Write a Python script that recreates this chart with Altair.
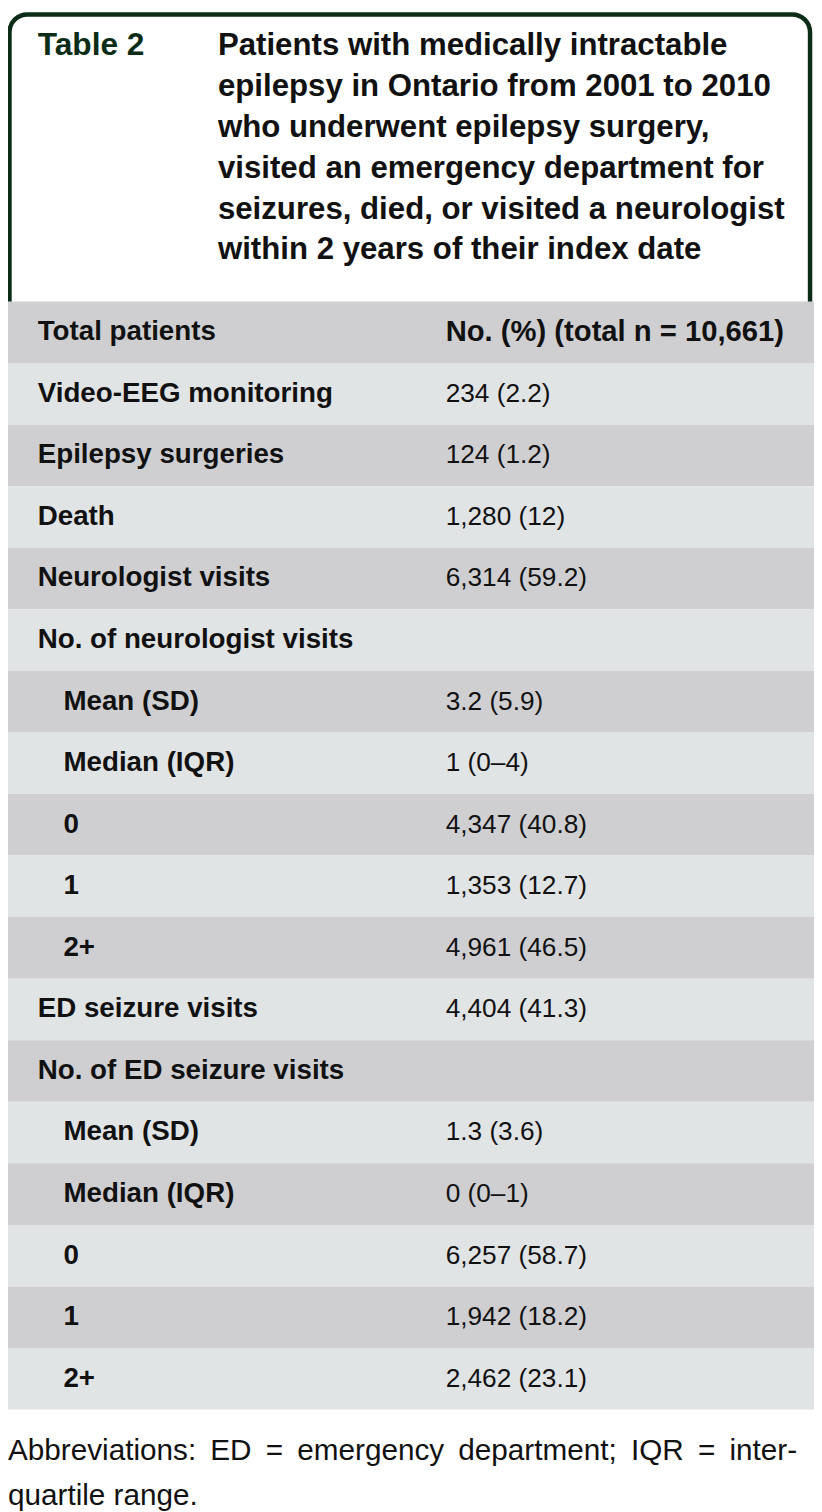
import altair as alt
import pandas as pd

# ---- content ----
table_label = "Table 2"
title_lines = [
    "Patients with medically intractable",
    "epilepsy in Ontario from 2001 to 2010",
    "who underwent epilepsy surgery,",
    "visited an emergency department for",
    "seizures, died, or visited a neurologist",
    "within 2 years of their index date",
]
row_labels = [
    "Total patients", "Video-EEG monitoring", "Epilepsy surgeries", "Death",
    "Neurologist visits", "No. of neurologist visits", "Mean (SD)", "Median (IQR)",
    "0", "1", "2+", "ED seizure visits", "No. of ED seizure visits", "Mean (SD)",
    "Median (IQR)", "0", "1", "2+",
]
row_values = [
    "No. (%) (total n = 10,661)", "234 (2.2)", "124 (1.2)", "1,280 (12)",
    "6,314 (59.2)", "", "3.2 (5.9)", "1 (0–4)", "4,347 (40.8)", "1,353 (12.7)",
    "4,961 (46.5)", "4,404 (41.3)", "", "1.3 (3.6)", "0 (0–1)", "6,257 (58.7)",
    "1,942 (18.2)", "2,462 (23.1)",
]
row_indent = [0, 0, 0, 0, 0, 0, 1, 1, 1, 1, 1, 0, 0, 1, 1, 1, 1, 1]
footnote_lines = [
    "Abbreviations:\u2009 ED\u2009 =\u2009 emergency\u2009 department;\u2009 IQR\u2009 =\u2009 inter-",
    "quartile range.",
]

W, H = 814, 1504
GREEN = "#0b2c16"
DARK = "#cfcfd1"
LIGHT = "#e1e4e5"
FONT = "Liberation Sans"

df = pd.DataFrame({
    "row": list(range(len(row_labels))),
    "label": row_labels,
    "value": row_values,
    "indent": row_indent,
})
df["shade"] = ["dark" if r % 2 == 0 else "light" for r in df["row"]]
one = pd.DataFrame({"k": [0]})

yscale = alt.Scale(domain=list(range(len(row_labels))), range=[289, 1408],
                   paddingInner=0, paddingOuter=0)
Y = alt.Y("row:O", scale=yscale, axis=None)

border = alt.Chart(one).mark_rect(
    fill="white", stroke=GREEN, strokeWidth=4.5,
    cornerRadiusTopLeft=18, cornerRadiusTopRight=18,
).encode(x=alt.value(1.5), x2=alt.value(810), y=alt.value(-1), y2=alt.value(296))

table_tag = alt.Chart(one).mark_text(
    font=FONT, fontSize=32, fontWeight="bold", color=GREEN,
    align="left", baseline="alphabetic",
).encode(x=alt.value(30), y=alt.value(40), text=alt.value(table_label))

title = alt.Chart(one).mark_text(
    font=FONT, fontSize=31.5, fontWeight="bold", color="#111111",
    align="left", baseline="alphabetic", lineHeight=41.3,
).encode(x=alt.value(212), y=alt.value(40), text=alt.value(title_lines))

rows = alt.Chart(df).mark_rect().encode(
    y=Y,
    x=alt.value(0), x2=alt.value(W),
    color=alt.Color("shade:N", scale=alt.Scale(domain=["dark", "light"], range=[DARK, LIGHT]), legend=None),
)

labels = alt.Chart(df).mark_text(
    font=FONT, fontSize=28, fontWeight="bold", color="#111111",
    align="left", baseline="middle",
).encode(
    y=Y,
    x=alt.X("indent:Q", scale=alt.Scale(domain=[0, 1], range=[30, 56]), axis=None),
    text="label:N",
)

head_val = alt.Chart(df).transform_filter("datum.row == 0").mark_text(
    font=FONT, fontSize=29.5, fontWeight="bold", color="#111111",
    align="left", baseline="middle",
).encode(y=Y, x=alt.value(442), text="value:N")

body_val = alt.Chart(df).transform_filter("datum.row > 0").mark_text(
    font=FONT, fontSize=26.5, color="#111111",
    align="left", baseline="middle",
).encode(y=Y, x=alt.value(442), text="value:N")

foot = alt.Chart(one).mark_text(
    font=FONT, fontSize=30, color="#111111",
    align="left", baseline="alphabetic", lineHeight=45,
).encode(x=alt.value(0), y=alt.value(1459), text=alt.value(footnote_lines))

chart = alt.layer(border, table_tag, title, rows, labels, head_val, body_val, foot).properties(
    width=W, height=H, padding=0, autosize=alt.AutoSizeParams(type="none"),
).configure_view(stroke=None)

chart.save("out.html", embed_options={"renderer": "svg", "actions": False})
